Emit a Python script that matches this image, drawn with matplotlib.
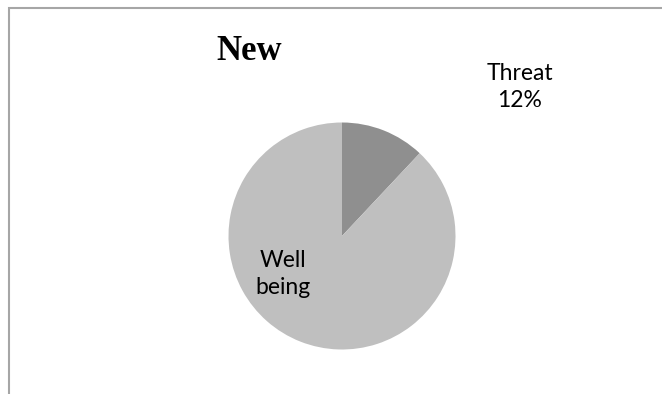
import matplotlib.pyplot as plt
from matplotlib.patches import Rectangle

# pie data
labels = ['Threat', 'Well being']
values = [12, 88]
colors = ['#8f8f8f', '#bfbfbf']
title = 'New'

W, H = 662, 394
fig = plt.figure(figsize=(W / 100, H / 100), dpi=100)

# chart border (runs off the right and bottom edges)
fig.patches.append(Rectangle((9 / W, -0.1), 1.2, 1 - 8 / H + 0.1,
                             transform=fig.transFigure, fill=False,
                             edgecolor='#a6a6a6', linewidth=1.5))

cx, cy, r = 342, 236, 113.5
ax = fig.add_axes([(cx - r) / W, (H - cy - r) / H, 2 * r / W, 2 * r / H])
ax.pie(values, colors=colors, startangle=90, counterclock=False, radius=1,
       wedgeprops=dict(linewidth=0))
ax.set_xlim(-1, 1)
ax.set_ylim(-1, 1)
ax.axis('off')

total = sum(values)
fig.text(249 / W, 1 - 51 / H, title, family='Liberation Serif',
         fontweight='bold', fontsize=25, ha='center', va='center')

lab_font = dict(family='Lato', fontsize=16.5, ha='center', va='center',
                linespacing=1.4)
fig.text(520 / W, 1 - 87 / H,
         f'{labels[0]}\n{round(100 * values[0] / total)}%', **lab_font)
fig.text(283 / W, 1 - 274 / H, labels[1].replace(' ', '\n'), **lab_font)

fig.savefig('out.png', dpi=100)
